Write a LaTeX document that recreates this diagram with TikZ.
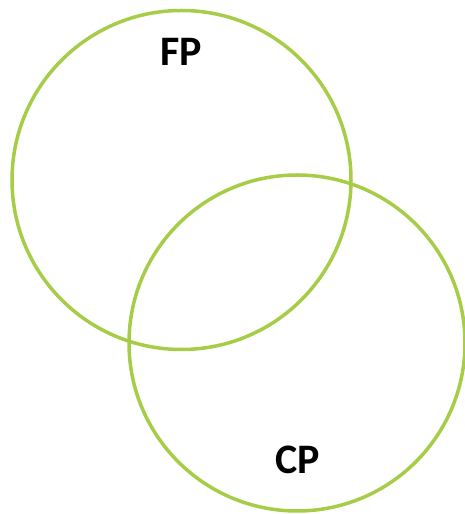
\documentclass[tikz,border=0pt]{standalone}
\usepackage{fontspec}
\setmainfont{Carlito}
\definecolor{ringgreen}{RGB}{166,204,72}
\begin{document}
\begin{tikzpicture}[x=1pt,y=1pt,
  ring/.style={draw=ringgreen,line width=3.5pt},
  lbl/.style={font=\bfseries\fontsize{42}{42}\selectfont,inner sep=0pt,anchor=center}]
\useasboundingbox (0,0) rectangle (465,514);
\node[ring,circle,minimum size=339pt,inner sep=0pt] (fp) at (181.5,334) {};
\node[ring,circle,minimum size=336pt,inner sep=0pt] (cp) at (297,171) {};
\node[lbl] (fpl) at (181,462) {FP};
\node[lbl] (cpl) at (298,54) {CP};
\end{tikzpicture}
\end{document}
